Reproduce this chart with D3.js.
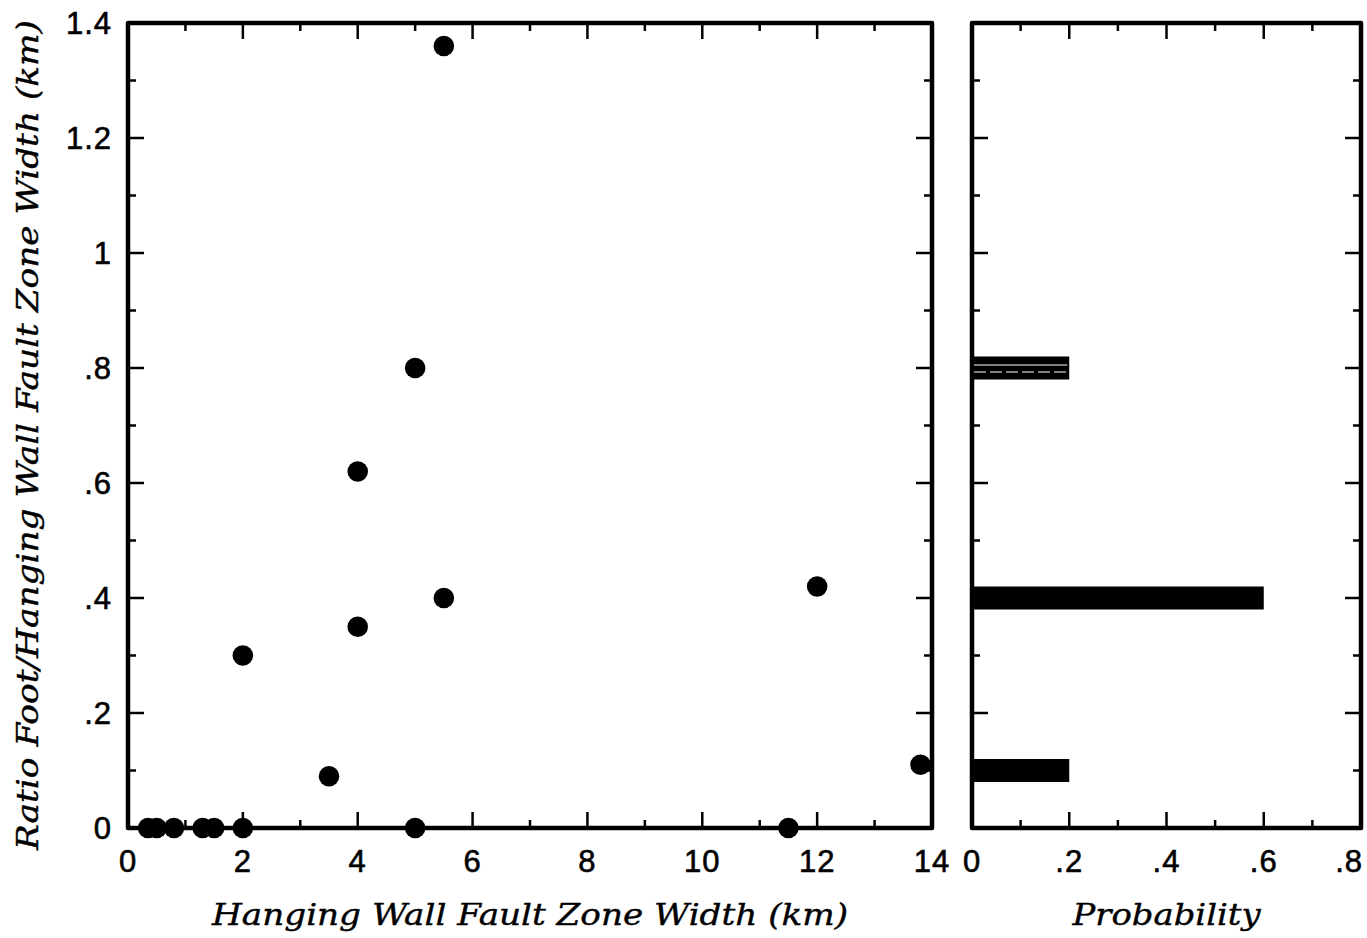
<!DOCTYPE html>
<html>
<head>
<meta charset="utf-8">
<script src="https://cdn.jsdelivr.net/npm/d3@7"></script>
<style>
  html, body { margin: 0; padding: 0; background: #fff; }
  svg { display: block; }
  .tick-label { font-family: "Liberation Sans", Arial, sans-serif; font-size: 31px; letter-spacing: 1px; fill: #000; stroke: #000; stroke-width: 0.6px; }
  .axis-title { font-family: "DejaVu Serif", "Liberation Serif", serif; font-style: italic; font-size: 30px; fill: #000; stroke: #000; stroke-width: 0.4px; }
</style>
</head>
<body>
<svg id="chart" width="1367" height="938"></svg>
<script>
// Hanging wall fault zone width (km) vs. foot/hanging wall width ratio
const widthKm = [0.35, 0.5, 0.8, 1.3, 1.5, 2.0, 5.0, 11.5, 3.5, 2.0, 4.0, 4.0, 5.0, 5.5, 5.5, 12.0, 13.8];
const ratio   = [0,    0,   0,   0,   0,   0,   0,   0,    0.09, 0.3, 0.35, 0.62, 0.8, 0.4, 1.36, 0.42, 0.11];

// Histogram of the ratio: bin centre and probability
const binRatio    = [0.8, 0.4, 0.1];
const probability = [0.2, 0.6, 0.2];
const binHeight = 0.04;

// Tick values and labels
const xTicksMajor = [0, 2, 4, 6, 8, 10, 12, 14];
const xTicksMinor = [1, 3, 5, 7, 9, 11, 13];
const yTicksMajor = [0, 0.2, 0.4, 0.6, 0.8, 1.0, 1.2, 1.4];
const yTickLabels = ["0", ".2", ".4", ".6", ".8", "1", "1.2", "1.4"];
const yTicksMinor = [0.1, 0.3, 0.5, 0.7, 0.9, 1.1, 1.3];
const pTicksMajor = [0, 0.2, 0.4, 0.6, 0.8];
const pTickLabels = ["0", ".2", ".4", ".6", ".8"];
const pTicksMinor = [0.1, 0.3, 0.5, 0.7];

const W = 1367;
const svg = d3.select("#chart");

const plotTop = 23, plotBottom = 828;
const y = d3.scaleLinear().domain([0, 1.4]).range([plotBottom, plotTop]);
const x = d3.scaleLinear().domain([0, 14]).range([128, 932]);
const p = d3.scaleLinear().domain([0, 0.8]).range([972, 1361]);

const MAJ = 16, MIN = 8;

function panel(xs, xMaj, xMin, xLabels) {
  const g = svg.append("g");
  const [x0, x1] = xs.range();

  // x ticks, bottom and top, pointing inward
  const xt = [...xMaj.map(v => ({ v, len: MAJ })), ...xMin.map(v => ({ v, len: MIN }))];
  xt.forEach(t => {
    g.append("line").attr("x1", xs(t.v)).attr("x2", xs(t.v))
      .attr("y1", plotBottom).attr("y2", plotBottom - t.len).attr("stroke", "#000").attr("stroke-width", 2.5);
    g.append("line").attr("x1", xs(t.v)).attr("x2", xs(t.v))
      .attr("y1", plotTop).attr("y2", plotTop + t.len).attr("stroke", "#000").attr("stroke-width", 2.5);
  });
  // y ticks, left and right, pointing inward
  const yt = [...yTicksMajor.map(v => ({ v, len: MAJ })), ...yTicksMinor.map(v => ({ v, len: MIN }))];
  yt.forEach(t => {
    g.append("line").attr("y1", y(t.v)).attr("y2", y(t.v))
      .attr("x1", x0).attr("x2", x0 + t.len).attr("stroke", "#000").attr("stroke-width", 2.5);
    g.append("line").attr("y1", y(t.v)).attr("y2", y(t.v))
      .attr("x1", x1).attr("x2", x1 - t.len).attr("stroke", "#000").attr("stroke-width", 2.5);
  });
  // frame
  g.append("rect").attr("x", x0).attr("y", plotTop)
    .attr("width", x1 - x0).attr("height", plotBottom - plotTop)
    .attr("fill", "none").attr("stroke", "#000").attr("stroke-width", 4.5)
    .attr("stroke-linejoin", "round");
  // x tick labels, kept inside the page on the right
  g.selectAll(".xl").data(xMaj).enter().append("text")
    .attr("class", "tick-label")
    .attr("x", d => xs(d)).attr("y", 872)
    .attr("text-anchor", "middle")
    .text((d, i) => xLabels[i])
    .each(function () {
      const b = this.getBBox();
      const over = b.x + b.width - (W - 4);
      if (over > 0) d3.select(this).attr("x", +d3.select(this).attr("x") - over);
    });
  return g;
}

// Left panel: scatter
panel(x, xTicksMajor, xTicksMinor, xTicksMajor.map(String));

// Y tick labels on the left panel
svg.selectAll(".yl").data(yTicksMajor).enter().append("text")
  .attr("class", "tick-label")
  .attr("x", 112).attr("y", d => y(d))
  .attr("dy", "0.36em")
  .attr("text-anchor", "end")
  .text((d, i) => yTickLabels[i]);

svg.append("g").selectAll("circle")
  .data(widthKm.map((w, i) => [w, ratio[i]]))
  .enter().append("circle")
  .attr("cx", d => x(d[0]))
  .attr("cy", d => y(d[1]))
  .attr("r", 10.3)
  .attr("fill", "#000");

// Right panel: probability histogram
panel(p, pTicksMajor, pTicksMinor, pTickLabels);

const bars = svg.append("g");
bars.selectAll("rect")
  .data(binRatio.map((r, i) => [r, probability[i]]))
  .enter().append("rect")
  .attr("x", p(0))
  .attr("y", d => y(d[0] + binHeight / 2))
  .attr("width", d => p(d[1]) - p(0))
  .attr("height", d => y(d[0] - binHeight / 2) - y(d[0] + binHeight / 2))
  .attr("fill", "#000");

// thin light seams inside the upper bar
const topBar = binRatio[0];
bars.append("line")
  .attr("x1", p(0) + 2).attr("x2", p(probability[0]) - 2)
  .attr("y1", y(topBar) - 3).attr("y2", y(topBar) - 3)
  .attr("stroke", "#fff").attr("stroke-width", 1);
bars.append("line")
  .attr("x1", p(0) + 2).attr("x2", p(probability[0]) - 2)
  .attr("y1", y(topBar) + 4).attr("y2", y(topBar) + 4)
  .attr("stroke", "#fff").attr("stroke-width", 1)
  .attr("stroke-dasharray", "12 4");

// Axis titles
svg.append("text").attr("class", "axis-title")
  .attr("x", (x(0) + x(14)) / 2).attr("y", 925)
  .attr("text-anchor", "middle")
  .attr("textLength", 636).attr("lengthAdjust", "spacingAndGlyphs")
  .text("Hanging Wall Fault Zone Width (km)");

svg.append("text").attr("class", "axis-title")
  .attr("x", (p(0) + p(0.8)) / 2).attr("y", 925)
  .attr("text-anchor", "middle")
  .attr("textLength", 188).attr("lengthAdjust", "spacingAndGlyphs")
  .text("Probability");

svg.append("text").attr("class", "axis-title")
  .attr("transform", `translate(38, ${435}) rotate(-90)`)
  .attr("text-anchor", "middle")
  .attr("textLength", 830).attr("lengthAdjust", "spacingAndGlyphs")
  .text("Ratio Foot/Hanging Wall Fault Zone Width (km)");
</script>
</body>
</html>
